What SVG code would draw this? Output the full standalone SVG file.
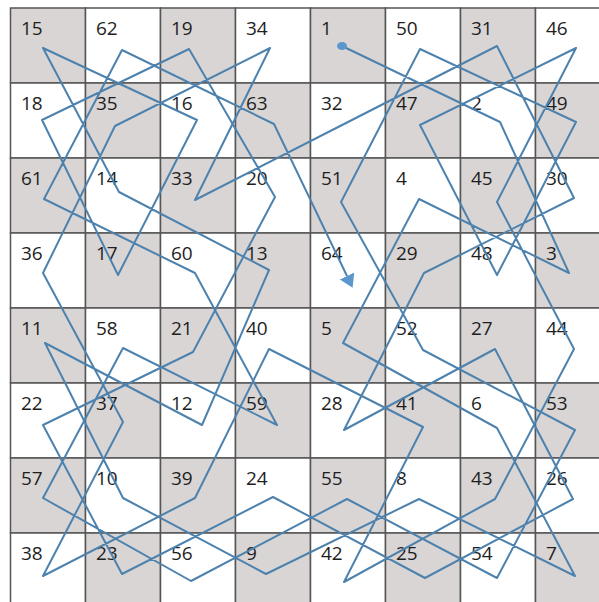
<svg xmlns="http://www.w3.org/2000/svg" width="599" height="602" viewBox="0 0 599 602">
<style>
.d{fill:#d9d5d5;stroke:#555;stroke-width:1.5}
.w{fill:#fff;stroke:#555;stroke-width:1.5}
text{font-family:"Open Sans","Liberation Sans",sans-serif;font-size:19px;fill:#1e1e1e}
.tour{fill:none;stroke:#4c82ad;stroke-width:2;stroke-linejoin:round}
</style>
<defs>
<marker id="dot" markerUnits="userSpaceOnUse" markerWidth="12" markerHeight="12" refX="6" refY="6" orient="0"><ellipse cx="6" cy="6" rx="5" ry="4" fill="#5b97cc"/></marker>
<marker id="arr" markerUnits="userSpaceOnUse" markerWidth="16" markerHeight="18" refX="0" refY="8" orient="auto"><path d="M0,0 L13,8 L0,16 z" fill="#5b97cc"/></marker>
</defs>
<rect width="599" height="602" fill="#fff"/>
<g id="board">
<g id="n15"><rect class="d" x="10.5" y="8" width="75" height="75"/><text x="21" y="35">15</text></g>
<g id="n62"><rect class="w" x="85.5" y="8" width="75" height="75"/><text x="96" y="35">62</text></g>
<g id="n19"><rect class="d" x="160.5" y="8" width="75" height="75"/><text x="171" y="35">19</text></g>
<g id="n34"><rect class="w" x="235.5" y="8" width="75" height="75"/><text x="246" y="35">34</text></g>
<g id="n1"><rect class="d" x="310.5" y="8" width="75" height="75"/><text x="321" y="35">1</text></g>
<g id="n50"><rect class="w" x="385.5" y="8" width="75" height="75"/><text x="396" y="35">50</text></g>
<g id="n31"><rect class="d" x="460.5" y="8" width="75" height="75"/><text x="471" y="35">31</text></g>
<g id="n46"><rect class="w" x="535.5" y="8" width="75" height="75"/><text x="546" y="35">46</text></g>

<g id="n18"><rect class="w" x="10.5" y="83" width="75" height="75"/><text x="21" y="110">18</text></g>
<g id="n35"><rect class="d" x="85.5" y="83" width="75" height="75"/><text x="96" y="110">35</text></g>
<g id="n16"><rect class="w" x="160.5" y="83" width="75" height="75"/><text x="171" y="110">16</text></g>
<g id="n63"><rect class="d" x="235.5" y="83" width="75" height="75"/><text x="246" y="110">63</text></g>
<g id="n32"><rect class="w" x="310.5" y="83" width="75" height="75"/><text x="321" y="110">32</text></g>
<g id="n47"><rect class="d" x="385.5" y="83" width="75" height="75"/><text x="396" y="110">47</text></g>
<g id="n2"><rect class="w" x="460.5" y="83" width="75" height="75"/><text x="471" y="110">2</text></g>
<g id="n49"><rect class="d" x="535.5" y="83" width="75" height="75"/><text x="546" y="110">49</text></g>

<g id="n61"><rect class="d" x="10.5" y="158" width="75" height="75"/><text x="21" y="185">61</text></g>
<g id="n14"><rect class="w" x="85.5" y="158" width="75" height="75"/><text x="96" y="185">14</text></g>
<g id="n33"><rect class="d" x="160.5" y="158" width="75" height="75"/><text x="171" y="185">33</text></g>
<g id="n20"><rect class="w" x="235.5" y="158" width="75" height="75"/><text x="246" y="185">20</text></g>
<g id="n51"><rect class="d" x="310.5" y="158" width="75" height="75"/><text x="321" y="185">51</text></g>
<g id="n4"><rect class="w" x="385.5" y="158" width="75" height="75"/><text x="396" y="185">4</text></g>
<g id="n45"><rect class="d" x="460.5" y="158" width="75" height="75"/><text x="471" y="185">45</text></g>
<g id="n30"><rect class="w" x="535.5" y="158" width="75" height="75"/><text x="546" y="185">30</text></g>

<g id="n36"><rect class="w" x="10.5" y="233" width="75" height="75"/><text x="21" y="260">36</text></g>
<g id="n17"><rect class="d" x="85.5" y="233" width="75" height="75"/><text x="96" y="260">17</text></g>
<g id="n60"><rect class="w" x="160.5" y="233" width="75" height="75"/><text x="171" y="260">60</text></g>
<g id="n13"><rect class="d" x="235.5" y="233" width="75" height="75"/><text x="246" y="260">13</text></g>
<g id="n64"><rect class="w" x="310.5" y="233" width="75" height="75"/><text x="321" y="260">64</text></g>
<g id="n29"><rect class="d" x="385.5" y="233" width="75" height="75"/><text x="396" y="260">29</text></g>
<g id="n48"><rect class="w" x="460.5" y="233" width="75" height="75"/><text x="471" y="260">48</text></g>
<g id="n3"><rect class="d" x="535.5" y="233" width="75" height="75"/><text x="546" y="260">3</text></g>

<g id="n11"><rect class="d" x="10.5" y="308" width="75" height="75"/><text x="21" y="335">11</text></g>
<g id="n58"><rect class="w" x="85.5" y="308" width="75" height="75"/><text x="96" y="335">58</text></g>
<g id="n21"><rect class="d" x="160.5" y="308" width="75" height="75"/><text x="171" y="335">21</text></g>
<g id="n40"><rect class="w" x="235.5" y="308" width="75" height="75"/><text x="246" y="335">40</text></g>
<g id="n5"><rect class="d" x="310.5" y="308" width="75" height="75"/><text x="321" y="335">5</text></g>
<g id="n52"><rect class="w" x="385.5" y="308" width="75" height="75"/><text x="396" y="335">52</text></g>
<g id="n27"><rect class="d" x="460.5" y="308" width="75" height="75"/><text x="471" y="335">27</text></g>
<g id="n44"><rect class="w" x="535.5" y="308" width="75" height="75"/><text x="546" y="335">44</text></g>

<g id="n22"><rect class="w" x="10.5" y="383" width="75" height="75"/><text x="21" y="410">22</text></g>
<g id="n37"><rect class="d" x="85.5" y="383" width="75" height="75"/><text x="96" y="410">37</text></g>
<g id="n12"><rect class="w" x="160.5" y="383" width="75" height="75"/><text x="171" y="410">12</text></g>
<g id="n59"><rect class="d" x="235.5" y="383" width="75" height="75"/><text x="246" y="410">59</text></g>
<g id="n28"><rect class="w" x="310.5" y="383" width="75" height="75"/><text x="321" y="410">28</text></g>
<g id="n41"><rect class="d" x="385.5" y="383" width="75" height="75"/><text x="396" y="410">41</text></g>
<g id="n6"><rect class="w" x="460.5" y="383" width="75" height="75"/><text x="471" y="410">6</text></g>
<g id="n53"><rect class="d" x="535.5" y="383" width="75" height="75"/><text x="546" y="410">53</text></g>

<g id="n57"><rect class="d" x="10.5" y="458" width="75" height="75"/><text x="21" y="485">57</text></g>
<g id="n10"><rect class="w" x="85.5" y="458" width="75" height="75"/><text x="96" y="485">10</text></g>
<g id="n39"><rect class="d" x="160.5" y="458" width="75" height="75"/><text x="171" y="485">39</text></g>
<g id="n24"><rect class="w" x="235.5" y="458" width="75" height="75"/><text x="246" y="485">24</text></g>
<g id="n55"><rect class="d" x="310.5" y="458" width="75" height="75"/><text x="321" y="485">55</text></g>
<g id="n8"><rect class="w" x="385.5" y="458" width="75" height="75"/><text x="396" y="485">8</text></g>
<g id="n43"><rect class="d" x="460.5" y="458" width="75" height="75"/><text x="471" y="485">43</text></g>
<g id="n26"><rect class="w" x="535.5" y="458" width="75" height="75"/><text x="546" y="485">26</text></g>

<g id="n38"><rect class="w" x="10.5" y="533" width="75" height="75"/><text x="21" y="560">38</text></g>
<g id="n23"><rect class="d" x="85.5" y="533" width="75" height="75"/><text x="96" y="560">23</text></g>
<g id="n56"><rect class="w" x="160.5" y="533" width="75" height="75"/><text x="171" y="560">56</text></g>
<g id="n9"><rect class="d" x="235.5" y="533" width="75" height="75"/><text x="246" y="560">9</text></g>
<g id="n42"><rect class="w" x="310.5" y="533" width="75" height="75"/><text x="321" y="560">42</text></g>
<g id="n25"><rect class="d" x="385.5" y="533" width="75" height="75"/><text x="396" y="560">25</text></g>
<g id="n54"><rect class="w" x="460.5" y="533" width="75" height="75"/><text x="471" y="560">54</text></g>
<g id="n7"><rect class="d" x="535.5" y="533" width="75" height="75"/><text x="546" y="560">7</text></g>
</g>
<g id="connectors">
<polyline class="tour" marker-start="url(#dot)" marker-end="url(#arr)" points="342,46 500,122 569,273 419,199 343,343 497,428 575,576 419,499 266,574 123,498 45,343 202,425 269,270 119,192 43,48 197,120 118,275 42,120 189,49 275,197 193,352 43,425 122,574 273,497 425,578 573,499 495,349 344,430 424,273 574,198 497,46 348,122 195,200 270,48 115,126 43,273 123,422 43,576 195,498 269,349 423,427 344,582 495,499 574,349 497,202 576,48 420,125 497,275 576,122 420,49 341,202 423,350 575,430 497,578 347,499 191,581 43,498 123,348 277,425 195,273 44,199 122,50 274,124 347,276"/>
</g>
</svg>
